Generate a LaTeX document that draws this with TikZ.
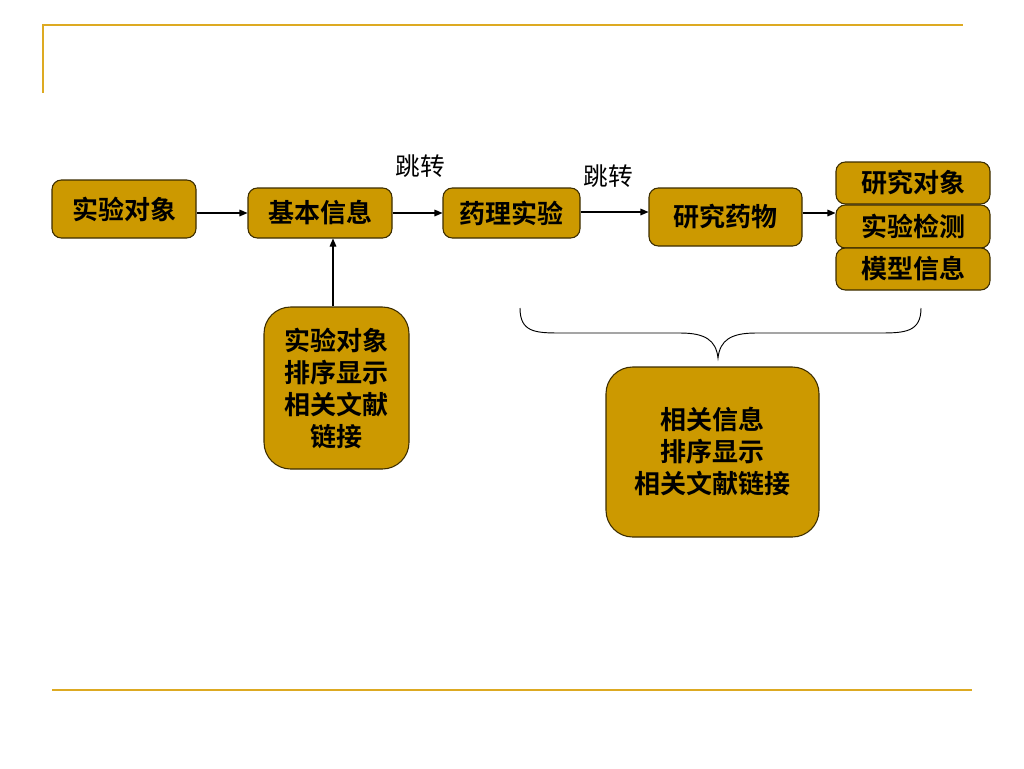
\documentclass[tikz,border=0pt]{standalone}
\usepackage{fontspec}
\newfontfamily\cjk{Noto Sans CJK SC}
\newfontfamily\cjkb{Noto Sans CJK SC}[BoldFont={* Bold}]
\usetikzlibrary{arrows.meta}
\definecolor{gold}{RGB}{204,153,0}
\definecolor{edge}{RGB}{60,45,0}
\definecolor{rule}{RGB}{221,170,34}
\tikzset{
  box/.style={draw=edge, fill=gold, line width=0.8pt, rounded corners=7pt, inner sep=0pt, font=\cjkb\bfseries\fontsize{19.5}{22}\selectfont, align=center},
  bigbox/.style={box, rounded corners=20pt, font=\cjkb\bfseries\fontsize{19.5}{24}\selectfont},
  arr/.style={-{Triangle[length=6pt,width=5pt]}, line width=0.8pt},
  lbl/.style={font=\cjk\fontsize{18.5}{22}\selectfont, inner sep=0pt},
}
\begin{document}
\begin{tikzpicture}[x=0.75pt,y=-0.75pt]
\useasboundingbox (0,0) rectangle (1024,768);
% rules
\draw[rule, line width=2pt] (42,25) -- (963,25);
\draw[rule, line width=1.5pt] (43,25) -- (43,93);
\draw[rule, line width=1.5pt] (52,690) -- (972,690);
% boxes
\node[box, minimum width=108pt, minimum height=43.5pt] (a) at (124,209) {实验对象};
\node[box, minimum width=108pt, minimum height=37.5pt] (b) at (320,213) {基本信息};
\node[box, minimum width=102.75pt, minimum height=37.5pt] (c) at (511.5,213) {药理实验};
\node[box, minimum width=114.75pt, minimum height=43.5pt] (d) at (725.5,217) {研究药物};
\node[box, minimum width=115.5pt, minimum height=31.5pt] (e1) at (913,183) {研究对象};
\node[box, minimum width=115.5pt, minimum height=32.25pt] (e2) at (913,226.5) {实验检测};
\node[box, minimum width=115.5pt, minimum height=31.5pt] (e3) at (913,269) {模型信息};
\node[bigbox, minimum width=108.75pt, minimum height=121.5pt] (f) at (336.5,388) {实验对象\\排序显示\\相关文献\\链接};
\node[bigbox, minimum width=159.75pt, minimum height=127.5pt] (g) at (712.5,452) {相关信息\\排序显示\\相关文献链接};
% labels
\node[lbl] (l1) at (420,166) {跳转};
\node[lbl] (l2) at (608,176) {跳转};
% arrows
\draw[arr] (a.east |- 0,213) -- (b.west |- 0,213);
\draw[arr] (b.east) -- (c.west);
\draw[arr] (c.east |- 0,212) -- (d.west |- 0,212);
\draw[arr] (d.east |- 0,213) -- (e2.west |- 0,213);
\draw[arr] (f.north -| 333,0) -- (b.south -| 333,0);
% brace
\coordinate (br) at (718,358);
\draw[line width=0.7pt] (520,308) .. controls (520,332) and (535,333) .. (560,333)
  -- (680,333) .. controls (705,333) and (716,340) .. (br)
  .. controls (720,340) and (731,333) .. (756,333)
  -- (880,333) .. controls (905,333) and (921,332) .. (921,308);
\end{tikzpicture}
\end{document}
